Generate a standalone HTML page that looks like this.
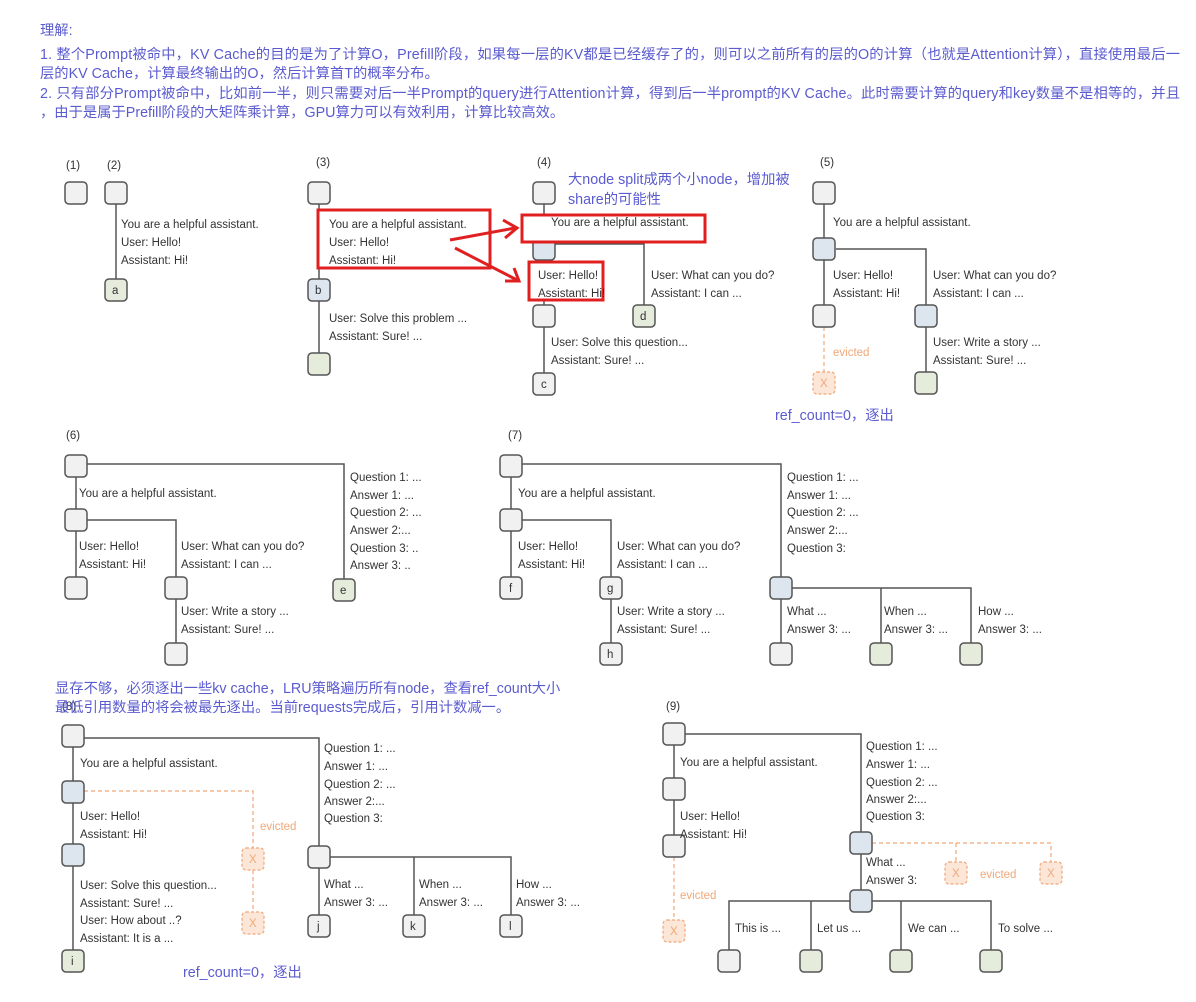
<!DOCTYPE html>
<html><head><meta charset="utf-8"><style>
body{margin:0;background:#fff;width:1196px;height:1002px;overflow:hidden}
svg{display:block}
text{font-family:"Liberation Sans","Noto Sans CJK SC",sans-serif;font-size:11.5px;fill:#333}
.h{fill:#5b5bd0;font-size:14.3px}
.n{fill:#f1f1f1;stroke:#555;stroke-width:1.5}
.b{fill:#dde6ef;stroke:#555;stroke-width:1.5}
.g{fill:#e5ecdc;stroke:#555;stroke-width:1.5}
.x{fill:#fbe6d8;stroke:#f0a878;stroke-width:1.2;stroke-dasharray:3 2}
.l{stroke:#555;stroke-width:1.5;fill:none}
.d{stroke:#f0a878;stroke-width:1.2;stroke-dasharray:4 3;fill:none}
.o{fill:#f0a878}
.r{stroke:#e02020;stroke-width:3;fill:none}
</style></head><body>
<svg width="1196" height="1002" xmlns="http://www.w3.org/2000/svg">
<text class="h" x="40" y="35">理解:</text>
<text class="h" x="40" y="59" textLength="1140" lengthAdjust="spacing">1. 整个Prompt被命中，KV Cache的目的是为了计算O，Prefill阶段，如果每一层的KV都是已经缓存了的，则可以之前所有的层的O的计算（也就是Attention计算），直接使用最后一</text>
<text class="h" x="40" y="78">层的KV Cache，计算最终输出的O，然后计算首T的概率分布。</text>
<text class="h" x="40" y="98" textLength="1140" lengthAdjust="spacing">2. 只有部分Prompt被命中，比如前一半，则只需要对后一半Prompt的query进行Attention计算，得到后一半prompt的KV Cache。此时需要计算的query和key数量不是相等的，并且</text>
<text class="h" x="40" y="117">，由于是属于Prefill阶段的大矩阵乘计算，GPU算力可以有效利用，计算比较高效。</text>

<!-- (1)(2) -->
<text x="66" y="169">(1)</text><text x="107" y="169">(2)</text>
<rect class="n" x="65" y="182" width="22" height="22" rx="4"/>
<line class="l" x1="116" y1="204" x2="116" y2="279"/>
<rect class="n" x="105" y="182" width="22" height="22" rx="4"/>
<rect class="g" x="105" y="279" width="22" height="22" rx="4"/><text x="112" y="294">a</text>
<text x="121" y="228">You are a helpful assistant.</text>
<text x="121" y="246">User: Hello!</text>
<text x="121" y="264">Assistant: Hi!</text>

<!-- (3) -->
<text x="316" y="166">(3)</text>
<line class="l" x1="319" y1="204" x2="319" y2="353"/>
<rect class="n" x="308" y="182" width="22" height="22" rx="4"/>
<rect class="b" x="308" y="279" width="22" height="22" rx="4"/><text x="315" y="294">b</text>
<rect class="g" x="308" y="353" width="22" height="22" rx="4"/>
<rect fill="#fff" x="318" y="210" width="172" height="58"/>
<rect class="r" x="318" y="210" width="172" height="58"/>
<text x="329" y="228">You are a helpful assistant.</text>
<text x="329" y="246">User: Hello!</text>
<text x="329" y="264">Assistant: Hi!</text>
<text x="329" y="322">User: Solve this problem ...</text>
<text x="329" y="340">Assistant: Sure! ...</text>
<path class="r" d="M450 240 L515 228 M503 220 L517 228 L505 238"/>
<path class="r" d="M455 248 L517 280 M505 281 L519 281 L514 268"/>

<!-- (4) -->
<text x="537" y="166">(4)</text>
<text class="h" x="568" y="184">大node split成两个小node，增加被</text>
<text class="h" x="568" y="204">share的可能性</text>
<line class="l" x1="544" y1="204" x2="544" y2="373"/>
<path class="l" d="M555 244 H644 V305"/>
<rect class="n" x="533" y="182" width="22" height="22" rx="4"/>
<rect class="b" x="533" y="238" width="22" height="22" rx="4"/>
<rect class="n" x="533" y="305" width="22" height="22" rx="4"/>
<rect class="g" x="633" y="305" width="22" height="22" rx="4"/><text x="640" y="320">d</text>
<rect class="n" x="533" y="373" width="22" height="22" rx="4"/><text x="541" y="388">c</text>
<rect fill="#fff" x="522" y="215" width="183" height="27"/>
<rect class="r" x="522" y="215" width="183" height="27"/>
<text x="551" y="226">You are a helpful assistant.</text>
<rect fill="#fff" x="529" y="262" width="74" height="38"/>
<rect class="r" x="529" y="262" width="74" height="38"/>
<text x="538" y="279">User: Hello!</text>
<text x="538" y="297">Assistant: Hi!</text>
<text x="651" y="279">User: What can you do?</text>
<text x="651" y="297">Assistant: I can ...</text>
<text x="551" y="346">User: Solve this question...</text>
<text x="551" y="364">Assistant: Sure! ...</text>

<!-- (5) -->
<text x="820" y="166">(5)</text>
<line class="l" x1="824" y1="204" x2="824" y2="305"/>
<path class="l" d="M836 249 H926 V372"/>
<line class="d" x1="824" y1="327" x2="824" y2="372"/>
<rect class="n" x="813" y="182" width="22" height="22" rx="4"/>
<rect class="b" x="813" y="238" width="22" height="22" rx="4"/>
<rect class="n" x="813" y="305" width="22" height="22" rx="4"/>
<rect class="b" x="915" y="305" width="22" height="22" rx="4"/>
<rect class="g" x="915" y="372" width="22" height="22" rx="4"/>
<rect class="x" x="813" y="372" width="22" height="22" rx="4"/><text class="o" x="820" y="387">X</text>
<text class="o" x="833" y="356">evicted</text>
<text x="833" y="226">You are a helpful assistant.</text>
<text x="833" y="279">User: Hello!</text>
<text x="833" y="297">Assistant: Hi!</text>
<text x="933" y="279">User: What can you do?</text>
<text x="933" y="297">Assistant: I can ...</text>
<text x="933" y="346">User: Write a story ...</text>
<text x="933" y="364">Assistant: Sure! ...</text>
<text class="h" x="775" y="420">ref_count=0，逐出</text>

<!-- (6) -->
<text x="66" y="439">(6)</text>
<line class="l" x1="76" y1="477" x2="76" y2="577"/>
<path class="l" d="M87 464 H344 V579"/>
<path class="l" d="M87 520 H176 V643"/>
<rect class="n" x="65" y="455" width="22" height="22" rx="4"/>
<rect class="n" x="65" y="509" width="22" height="22" rx="4"/>
<rect class="n" x="65" y="577" width="22" height="22" rx="4"/>
<rect class="n" x="165" y="577" width="22" height="22" rx="4"/>
<rect class="n" x="165" y="643" width="22" height="22" rx="4"/>
<rect class="g" x="333" y="579" width="22" height="22" rx="4"/><text x="340" y="594">e</text>
<text x="79" y="497">You are a helpful assistant.</text>
<text x="79" y="550">User: Hello!</text>
<text x="79" y="568">Assistant: Hi!</text>
<text x="181" y="550">User: What can you do?</text>
<text x="181" y="568">Assistant: I can ...</text>
<text x="181" y="615">User: Write a story ...</text>
<text x="181" y="633">Assistant: Sure! ...</text>
<text x="350" y="481">Question 1: ...</text>
<text x="350" y="499">Answer 1: ...</text>
<text x="350" y="516">Question 2: ...</text>
<text x="350" y="534">Answer 2:...</text>
<text x="350" y="552">Question 3: ..</text>
<text x="350" y="569">Answer 3: ..</text>

<!-- (7) -->
<text x="508" y="439">(7)</text>
<line class="l" x1="511" y1="477" x2="511" y2="577"/>
<path class="l" d="M522 464 H781 V643"/>
<path class="l" d="M522 520 H611 V643"/>
<path class="l" d="M792 588 H971 V643 M881 588 V643"/>
<rect class="n" x="500" y="455" width="22" height="22" rx="4"/>
<rect class="n" x="500" y="509" width="22" height="22" rx="4"/>
<rect class="n" x="500" y="577" width="22" height="22" rx="4"/><text x="509" y="592">f</text>
<rect class="n" x="600" y="577" width="22" height="22" rx="4"/><text x="607" y="592">g</text>
<rect class="n" x="600" y="643" width="22" height="22" rx="4"/><text x="607" y="658">h</text>
<rect class="b" x="770" y="577" width="22" height="22" rx="4"/>
<rect class="n" x="770" y="643" width="22" height="22" rx="4"/>
<rect class="g" x="870" y="643" width="22" height="22" rx="4"/>
<rect class="g" x="960" y="643" width="22" height="22" rx="4"/>
<text x="518" y="497">You are a helpful assistant.</text>
<text x="518" y="550">User: Hello!</text>
<text x="518" y="568">Assistant: Hi!</text>
<text x="617" y="550">User: What can you do?</text>
<text x="617" y="568">Assistant: I can ...</text>
<text x="617" y="615">User: Write a story ...</text>
<text x="617" y="633">Assistant: Sure! ...</text>
<text x="787" y="481">Question 1: ...</text>
<text x="787" y="499">Answer 1: ...</text>
<text x="787" y="516">Question 2: ...</text>
<text x="787" y="534">Answer 2:...</text>
<text x="787" y="552">Question 3:</text>
<text x="787" y="615">What ...</text>
<text x="787" y="633">Answer 3: ...</text>
<text x="884" y="615">When ...</text>
<text x="884" y="633">Answer 3: ...</text>
<text x="978" y="615">How ...</text>
<text x="978" y="633">Answer 3: ...</text>

<!-- (8) -->
<text class="h" x="55" y="693">显存不够，必须逐出一些kv cache，LRU策略遍历所有node，查看ref_count大小</text>
<text x="62" y="710">(8)</text>
<text class="h" x="55" y="712">最低引用数量的将会被最先逐出。当前requests完成后，引用计数减一。</text>
<line class="l" x1="73" y1="747" x2="73" y2="950"/>
<path class="l" d="M84 738 H319 V915"/>
<path class="l" d="M330 857 H511 V915 M414 857 V915"/>
<path class="d" d="M84 791 H253 V848 M253 870 V912"/>
<rect class="n" x="62" y="725" width="22" height="22" rx="4"/>
<rect class="b" x="62" y="781" width="22" height="22" rx="4"/>
<rect class="b" x="62" y="844" width="22" height="22" rx="4"/>
<rect class="g" x="62" y="950" width="22" height="22" rx="4"/><text x="71" y="965">i</text>
<rect class="n" x="308" y="846" width="22" height="22" rx="4"/>
<rect class="n" x="308" y="915" width="22" height="22" rx="4"/><text x="317" y="930">j</text>
<rect class="n" x="403" y="915" width="22" height="22" rx="4"/><text x="410" y="930">k</text>
<rect class="n" x="500" y="915" width="22" height="22" rx="4"/><text x="509" y="930">l</text>
<rect class="x" x="242" y="848" width="22" height="22" rx="4"/><text class="o" x="249" y="863">X</text>
<rect class="x" x="242" y="912" width="22" height="22" rx="4"/><text class="o" x="249" y="927">X</text>
<text class="o" x="260" y="830">evicted</text>
<text x="80" y="767">You are a helpful assistant.</text>
<text x="80" y="820">User: Hello!</text>
<text x="80" y="838">Assistant: Hi!</text>
<text x="80" y="889">User: Solve this question...</text>
<text x="80" y="907">Assistant: Sure! ...</text>
<text x="80" y="924">User: How about ..?</text>
<text x="80" y="942">Assistant: It is a ...</text>
<text x="324" y="752">Question 1: ...</text>
<text x="324" y="770">Answer 1: ...</text>
<text x="324" y="788">Question 2: ...</text>
<text x="324" y="805">Answer 2:...</text>
<text x="324" y="822">Question 3:</text>
<text x="324" y="888">What ...</text>
<text x="324" y="906">Answer 3: ...</text>
<text x="419" y="888">When ...</text>
<text x="419" y="906">Answer 3: ...</text>
<text x="516" y="888">How ...</text>
<text x="516" y="906">Answer 3: ...</text>
<text class="h" x="183" y="977">ref_count=0，逐出</text>

<!-- (9) -->
<text x="666" y="710">(9)</text>
<line class="l" x1="674" y1="745" x2="674" y2="835"/>
<line class="d" x1="674" y1="857" x2="674" y2="920"/>
<path class="l" d="M685 734 H861 V890"/>
<path class="d" d="M872 843 H1051 V862 M956 843 V862"/>
<path class="l" d="M729 950 V901 H991 V950 M811 901 V950 M901 901 V950"/>
<rect class="n" x="663" y="723" width="22" height="22" rx="4"/>
<rect class="n" x="663" y="778" width="22" height="22" rx="4"/>
<rect class="n" x="663" y="835" width="22" height="22" rx="4"/>
<rect class="x" x="663" y="920" width="22" height="22" rx="4"/><text class="o" x="670" y="935">X</text>
<text class="o" x="680" y="899">evicted</text>
<rect class="b" x="850" y="832" width="22" height="22" rx="4"/>
<rect class="b" x="850" y="890" width="22" height="22" rx="4"/>
<rect class="x" x="945" y="862" width="22" height="22" rx="4"/><text class="o" x="952" y="877">X</text>
<rect class="x" x="1040" y="862" width="22" height="22" rx="4"/><text class="o" x="1047" y="877">X</text>
<text class="o" x="980" y="878">evicted</text>
<rect class="n" x="718" y="950" width="22" height="22" rx="4"/>
<rect class="g" x="800" y="950" width="22" height="22" rx="4"/>
<rect class="g" x="890" y="950" width="22" height="22" rx="4"/>
<rect class="g" x="980" y="950" width="22" height="22" rx="4"/>
<text x="680" y="766">You are a helpful assistant.</text>
<text x="680" y="820">User: Hello!</text>
<text x="680" y="838">Assistant: Hi!</text>
<text x="866" y="750">Question 1: ...</text>
<text x="866" y="768">Answer 1: ...</text>
<text x="866" y="786">Question 2: ...</text>
<text x="866" y="803">Answer 2:...</text>
<text x="866" y="820">Question 3:</text>
<text x="866" y="866">What ...</text>
<text x="866" y="884">Answer 3:</text>
<text x="735" y="932">This is ...</text>
<text x="817" y="932">Let us ...</text>
<text x="908" y="932">We can ...</text>
<text x="998" y="932">To solve ...</text>
</svg>
</body></html>
